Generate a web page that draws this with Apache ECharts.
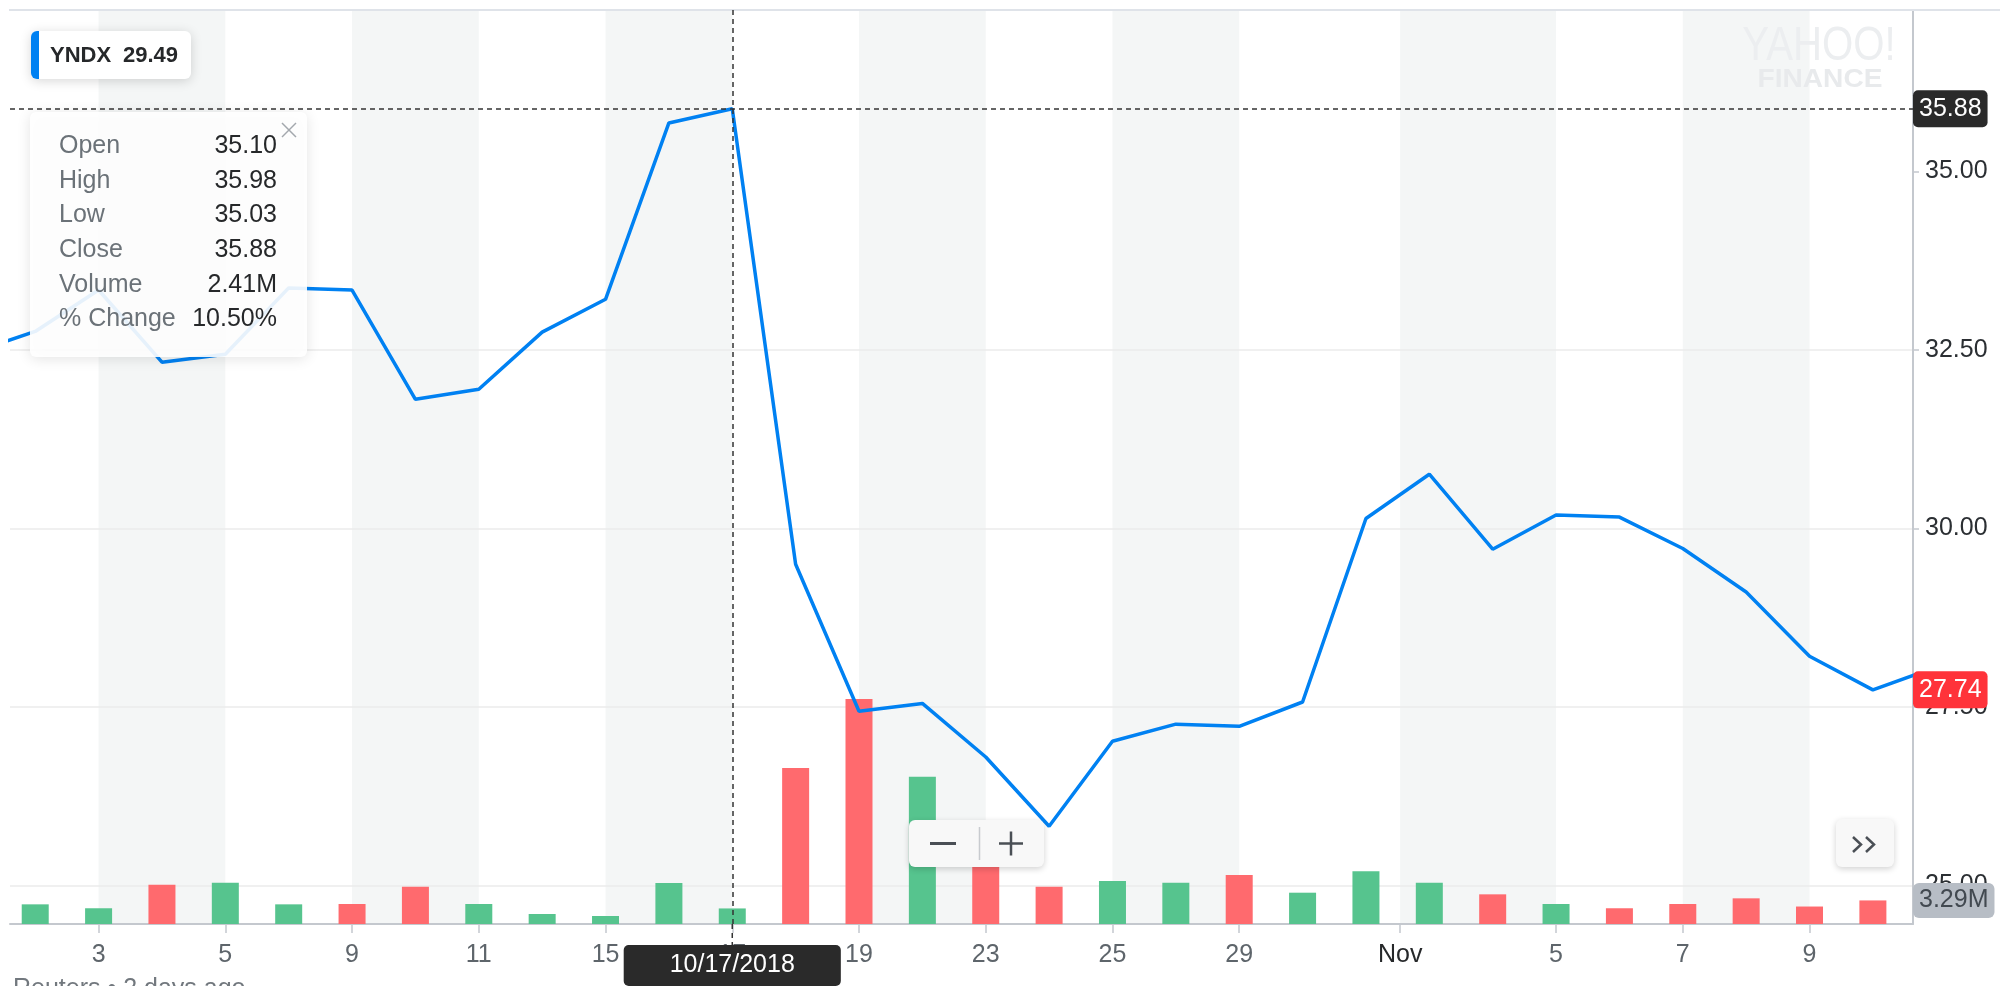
<!DOCTYPE html>
<html>
<head>
<meta charset="utf-8">
<script src="https://cdn.jsdelivr.net/npm/echarts@6/dist/echarts.min.js"></script>
<style>
html,body{margin:0;padding:0;background:#ffffff;}
#c{width:2000px;height:986px;}
</style>
</head>
<body>
<div id="c"></div>
<script>
// ---------------- DATA ----------------
const dates = ['2018-10-01','2018-10-02','2018-10-03','2018-10-04','2018-10-05','2018-10-08','2018-10-09','2018-10-10','2018-10-11','2018-10-12','2018-10-15','2018-10-16','2018-10-17','2018-10-18','2018-10-19','2018-10-22','2018-10-23','2018-10-24','2018-10-25','2018-10-26','2018-10-29','2018-10-30','2018-10-31','2018-11-01','2018-11-02','2018-11-05','2018-11-06','2018-11-07','2018-11-08','2018-11-09','2018-11-12','2018-11-13'];
const closes = [32.46, 32.76, 33.34, 32.33, 32.44, 33.37, 33.34, 31.81, 31.95, 32.75, 33.21, 35.68, 35.88, 29.50, 27.44, 27.55, 26.80, 25.83, 27.02, 27.26, 27.23, 27.57, 30.14, 30.76, 29.71, 30.19, 30.16, 29.72, 29.11, 28.21, 27.74, 28.06];
const volumesM = [null, 2.86, 2.43, 5.02, 5.24, 2.86, 2.90, 4.80, 2.90, 1.80, 1.58, 5.21, 2.41, 17.84, 25.43, 16.89, 7.51, 4.80, 5.43, 5.24, 6.08, 4.14, 6.49, 5.24, 3.96, 2.90, 2.43, 2.90, 3.52, 2.62, 3.29, null];
const xTickPos = [2, 4, 6, 8, 10, 12, 14, 16, 18, 20, 22.54, 25, 27, 29];
const xTickLabels = ['3', '5', '9', '11', '15', '17', '19', '23', '25', '29', 'Nov', '5', '7', '9'];
const bandStart = [2, 6, 10, 14, 18, 22.54, 27];
const bandEnd = [4, 8, 12, 16, 20, 25, 29];
const priceTicks = [25, 27.5, 30, 32.5, 35];
const hoverIndex = 12;           // 10/17/2018
const lastIndex = 30;            // 11/12/2018
const symbolName = 'YNDX';
const symbolPrice = '29.49';
const tipLabels = ['Open', 'High', 'Low', 'Close', 'Volume', '% Change'];
const tipValues = ['35.10', '35.98', '35.03', '35.88', '2.41M', '10.50%'];
const sourceText = 'Reuters \u2022 2 days ago';

// ---------------- STYLE ----------------
const FONT = '"Liberation Sans", Arial, Helvetica, sans-serif';
const BLUE = '#0081f2';
const GREEN = '#56c48e';
const RED = '#ff6a6e';
const AXIS = '#c4c8ce';
const X_MIN = 0.602, X_MAX = 30.633;

function fmtDate(s) {
  const p = s.split('-');
  return p[1] + '/' + p[2] + '/' + p[0];
}

const chart = echarts.init(document.getElementById('c'), null, {renderer: 'canvas', width: 2000, height: 986});

const volData = [];
volumesM.forEach((v, i) => {
  if (v == null) return;
  const up = closes[i] >= closes[i - 1];
  volData.push({value: [i, v], itemStyle: {color: up ? GREEN : RED}});
});

const option = {
  animation: false,
  backgroundColor: '#ffffff',
  textStyle: {fontFamily: FONT},
  grid: [
    {left: 10, right: 87, top: 10, bottom: 100.5, outerBoundsMode: 'none', containLabel: false},
    {left: 10, right: 87, top: 10, bottom: 62, outerBoundsMode: 'none', containLabel: false}
  ],
  xAxis: [
    {gridIndex: 0, type: 'value', min: X_MIN, max: X_MAX, show: false,
     axisLine: {onZero: false}, splitLine: {show: false}},
    {gridIndex: 1, type: 'value', min: X_MIN, max: X_MAX, z: 1,
     axisLine: {show: true, onZero: false, lineStyle: {color: AXIS, width: 2}},
     axisTick: {show: true, customValues: xTickPos, length: 9, lineStyle: {color: AXIS, width: 1.5}},
     axisLabel: {show: true, customValues: xTickPos, margin: 19, fontSize: 25, color: '#5e656b', fontFamily: FONT,
       formatter: function (v) {
         for (let i = 0; i < xTickPos.length; i++) {
           if (Math.abs(xTickPos[i] - v) < 1e-6) {
             return xTickLabels[i] === 'Nov' ? '{dark|Nov}' : xTickLabels[i];
           }
         }
         return '';
       },
       rich: {dark: {color: '#26282a', fontSize: 25, fontFamily: FONT}}},
     splitLine: {show: false},
     axisPointer: {show: true, type: 'line', value: hoverIndex, status: 'show', snap: false, triggerTooltip: false,
       lineStyle: {color: '#333333', width: 1.5, type: [5, 4]},
       label: {show: true, margin: 23, fontSize: 25, fontFamily: FONT, color: '#ffffff', backgroundColor: '#2a2a2a',
         padding: [8, 46, 8, 46], borderRadius: 5,
         formatter: function (p) { return fmtDate(dates[Math.round(p.value)]); }}}
    }
  ],
  yAxis: [
    {gridIndex: 0, type: 'value', position: 'right', min: 25, max: 37.262, interval: 2.5, z: 1,
     axisLine: {show: false, onZero: false},
     axisTick: {show: true, customValues: priceTicks, length: 6, lineStyle: {color: AXIS, width: 1.5}},
     axisLabel: {show: true, customValues: priceTicks, margin: 12, fontSize: 25, color: '#2b2f33', fontFamily: FONT,
       formatter: function (v) { return v.toFixed(2); }},
     splitLine: {show: true, showMaxLine: false, lineStyle: {color: '#ebebeb', width: 1.5}},
     axisPointer: {show: true, type: 'line', value: closes[hoverIndex], status: 'show', snap: false, triggerTooltip: false,
       lineStyle: {color: '#333333', width: 1.5, type: [5, 4]},
       label: {show: true, margin: 0, fontSize: 25, fontFamily: FONT, color: '#ffffff', backgroundColor: '#2a2a2a',
         padding: [6, 6, 6, 6], borderRadius: 5,
         formatter: function (p) { return Number(p.value).toFixed(2); }}}
    },
    {gridIndex: 1, type: 'value', position: 'right', min: 0.7, max: 101.14, z: 1,
     axisLine: {show: true, onZero: false, lineStyle: {color: AXIS, width: 2}},
     axisTick: {show: false}, axisLabel: {show: false}, splitLine: {show: false}}
  ],
  series: [
    {type: 'custom', name: 'bands', xAxisIndex: 1, yAxisIndex: 1, z: -1, silent: true,
     data: bandStart.map((s, i) => [s, bandEnd[i]]),
     renderItem: function (params, api) {
       const cs = params.coordSys;
       const x0 = api.coord([api.value(0), 50])[0];
       const x1 = api.coord([api.value(1), 50])[0];
       return {type: 'rect', shape: {x: x0, y: cs.y, width: x1 - x0, height: cs.height},
               style: {fill: '#f4f6f6'}};
     }},
    {type: 'bar', name: 'Volume', xAxisIndex: 1, yAxisIndex: 1, z: 2, barWidth: 27, clip: true,
     data: volData,
     markLine: {silent: true, symbol: 'none', animation: false,
       lineStyle: {width: 0, color: 'transparent'},
       label: {show: true, position: 'end', distance: 0, fontSize: 25, fontFamily: FONT, color: '#424950',
         backgroundColor: '#b7bdc5', padding: [5, 6, 5, 6], borderRadius: 6,
         formatter: function (p) { return Number(p.value).toFixed(2) + 'M'; }},
       data: [{yAxis: volumesM[lastIndex]}]}},
    {type: 'line', name: symbolName, xAxisIndex: 0, yAxisIndex: 0, z: 3, symbol: 'none', clip: true,
     data: closes.map((c, i) => [i, c]),
     lineStyle: {color: BLUE, width: 3.5},
     markLine: {silent: true, symbol: 'none', animation: false,
       lineStyle: {width: 0, color: 'transparent'},
       label: {show: true, position: 'end', distance: 0, fontSize: 25, fontFamily: FONT, color: '#ffffff',
         backgroundColor: '#ff333a', padding: [6, 6, 6, 6], borderRadius: 5,
         formatter: function (p) { return Number(p.value).toFixed(2); }},
       data: [{yAxis: closes[lastIndex]}]}}
  ]
};

chart.setOption(option);

// ---------------- OVERLAYS ----------------
function txt(text, x, y, size, color, align, vAlign, weight, extra) {
  const o = {type: 'text', z: 102, silent: true,
    style: {text: text, x: x, y: y, font: (weight || 'normal') + ' ' + size + 'px ' + FONT, fill: color,
      align: align, textAlign: align, verticalAlign: vAlign, textVerticalAlign: vAlign}};
  if (extra) Object.assign(o, extra);
  return o;
}

const crossX = chart.convertToPixel({xAxisIndex: 1}, hoverIndex);
const axisY = chart.convertToPixel({yAxisIndex: 1}, 0.7);

const G = [];
// top border
G.push({type: 'line', z: 5, silent: true, shape: {x1: 9, y1: 10, x2: 2000, y2: 10}, style: {stroke: '#dfe3e9', lineWidth: 2}});
// crosshair extension below axis
G.push({type: 'line', z: 40, silent: true, shape: {x1: crossX, y1: axisY, x2: crossX, y2: axisY + 22},
  style: {stroke: '#333333', lineWidth: 1.5, lineDash: [5, 4]}});

// watermark
G.push({type: 'text', z: 4, silent: true, x: 1819, y: 46, scaleX: 0.82,
  style: {text: 'YAHOO!', x: 0, y: 0, font: 'normal 49px ' + FONT, fill: '#eceef0',
    align: 'center', textAlign: 'center', verticalAlign: 'middle', textVerticalAlign: 'middle'}});
G.push({type: 'text', z: 4, silent: true, x: 1820, y: 80, scaleX: 1.08,
  style: {text: 'FINANCE', x: 0, y: 0, font: 'bold 26px ' + FONT, fill: '#e8eaec',
    align: 'center', textAlign: 'center', verticalAlign: 'middle', textVerticalAlign: 'middle'}});

// symbol legend box
G.push({type: 'rect', z: 100, silent: true, shape: {x: 31, y: 31, width: 160, height: 48, r: 6},
  style: {fill: '#ffffff', shadowBlur: 12, shadowColor: 'rgba(0,0,0,0.16)', shadowOffsetY: 2}});
G.push({type: 'rect', z: 101, silent: true, shape: {x: 31, y: 31, width: 8, height: 48, r: [6, 0, 0, 6]},
  style: {fill: BLUE}});
G.push(txt(symbolName, 50, 56, 22, '#26282a', 'left', 'middle', 'bold'));
G.push(txt(symbolPrice, 123, 56, 22, '#26282a', 'left', 'middle', 'bold'));

// hover info box
G.push({type: 'rect', z: 100, silent: true, shape: {x: 30, y: 112, width: 277, height: 245, r: 6},
  style: {fill: 'rgba(255,255,255,0.9)', shadowBlur: 14, shadowColor: 'rgba(0,0,0,0.12)', shadowOffsetY: 2}});
tipLabels.forEach((l, i) => {
  const y = 146 + i * 34.7;
  G.push(txt(l, 59, y, 25, '#6b7278', 'left', 'middle'));
  G.push(txt(tipValues[i], 277, y, 25, '#26282a', 'right', 'middle'));
});
G.push({type: 'line', z: 102, silent: true, shape: {x1: 282, y1: 123, x2: 296, y2: 137}, style: {stroke: '#a3a8ad', lineWidth: 1.5}});
G.push({type: 'line', z: 102, silent: true, shape: {x1: 282, y1: 137, x2: 296, y2: 123}, style: {stroke: '#a3a8ad', lineWidth: 1.5}});

// zoom buttons
G.push({type: 'rect', z: 100, silent: true, shape: {x: 909, y: 820, width: 135, height: 47, r: 6},
  style: {fill: '#f8f8f8', shadowBlur: 6, shadowColor: 'rgba(0,0,0,0.18)', shadowOffsetY: 2}});
G.push({type: 'line', z: 101, silent: true, shape: {x1: 930, y1: 843.5, x2: 956, y2: 843.5}, style: {stroke: '#4a4f55', lineWidth: 3}});
G.push({type: 'line', z: 101, silent: true, shape: {x1: 979.5, y1: 827, x2: 979.5, y2: 860}, style: {stroke: '#c8cbcf', lineWidth: 1.5}});
G.push({type: 'line', z: 101, silent: true, shape: {x1: 999, y1: 843.5, x2: 1023, y2: 843.5}, style: {stroke: '#4a4f55', lineWidth: 2.5}});
G.push({type: 'line', z: 101, silent: true, shape: {x1: 1011, y1: 831.5, x2: 1011, y2: 855.5}, style: {stroke: '#4a4f55', lineWidth: 2.5}});

// ">>" button
G.push({type: 'rect', z: 100, silent: true, shape: {x: 1836, y: 819, width: 58, height: 48, r: 6},
  style: {fill: '#f8f8f8', shadowBlur: 6, shadowColor: 'rgba(0,0,0,0.18)', shadowOffsetY: 2}});
G.push({type: 'polyline', z: 101, silent: true, shape: {points: [[1853, 837], [1861, 844.5], [1853, 852]]},
  style: {stroke: '#4a4f55', lineWidth: 2.5, fill: null}});
G.push({type: 'polyline', z: 101, silent: true, shape: {points: [[1866, 837], [1874, 844.5], [1866, 852]]},
  style: {stroke: '#4a4f55', lineWidth: 2.5, fill: null}});

// source line (cut at bottom edge)
G.push(txt(sourceText, 13, 977, 25, '#72787e', 'left', 'top'));

chart.setOption({graphic: {elements: G}});
</script>
</body>
</html>
